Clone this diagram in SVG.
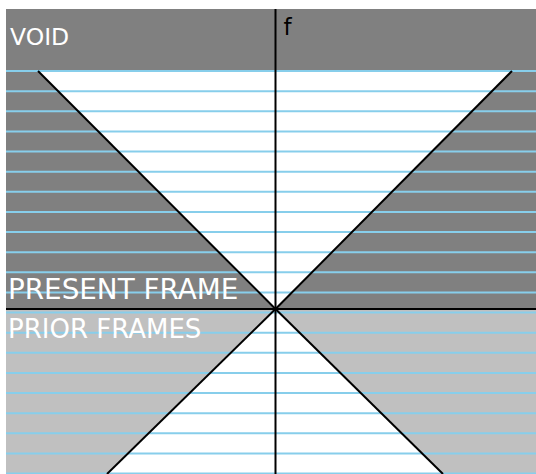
<svg xmlns="http://www.w3.org/2000/svg" width="536" height="474" viewBox="0 0 536 474">
<style>
.grid line{stroke:#87ceeb;stroke-width:2}
.ax{stroke:#000;stroke-width:2;fill:none}
.lbl{font-family:"DejaVu Sans",sans-serif;fill:#fff}
</style>
<rect width="536" height="474" fill="#fff"/>
<g id="void-region">
<rect x="6" y="9" width="530" height="300" fill="#808080"/>
<polygon points="38,71 512,71 275,309" fill="#fff"/>
</g>
<g id="prior-region">
<rect x="6" y="309" width="530" height="165" fill="#c0c0c0"/>
<polygon points="275,309 443,474 107,474" fill="#fff"/>
</g>
<g id="grid" class="grid">
<line x1="6" y1="71" x2="536" y2="71"/>
<line x1="6" y1="91.13" x2="536" y2="91.13"/>
<line x1="6" y1="111.26" x2="536" y2="111.26"/>
<line x1="6" y1="131.39" x2="536" y2="131.39"/>
<line x1="6" y1="151.52" x2="536" y2="151.52"/>
<line x1="6" y1="171.65" x2="536" y2="171.65"/>
<line x1="6" y1="191.78" x2="536" y2="191.78"/>
<line x1="6" y1="211.91" x2="536" y2="211.91"/>
<line x1="6" y1="232.04" x2="536" y2="232.04"/>
<line x1="6" y1="252.17" x2="536" y2="252.17"/>
<line x1="6" y1="272.3" x2="536" y2="272.3"/>
<line x1="6" y1="292.43" x2="536" y2="292.43"/>
<line x1="6" y1="312.56" x2="536" y2="312.56"/>
<line x1="6" y1="332.69" x2="536" y2="332.69"/>
<line x1="6" y1="352.82" x2="536" y2="352.82"/>
<line x1="6" y1="372.95" x2="536" y2="372.95"/>
<line x1="6" y1="393.08" x2="536" y2="393.08"/>
<line x1="6" y1="413.21" x2="536" y2="413.21"/>
<line x1="6" y1="433.34" x2="536" y2="433.34"/>
<line x1="6" y1="453.47" x2="536" y2="453.47"/>
<line x1="6" y1="473.6" x2="536" y2="473.6"/>
</g>
<g id="connectors">
<line class="ax" x1="275.5" y1="9" x2="275.5" y2="474"/>
<line class="ax" x1="6" y1="309" x2="536" y2="309"/>
<line class="ax" x1="38" y1="71" x2="275.5" y2="309"/>
<line class="ax" x1="512" y1="71" x2="275.5" y2="309"/>
<line class="ax" x1="275.5" y1="309" x2="107" y2="474"/>
<line class="ax" x1="275.5" y1="309" x2="443" y2="474"/>
</g>
<g id="label-void"><text class="lbl" x="10" y="45" font-size="23.5">VOID</text></g>
<g id="label-f"><text x="283.5" y="35" font-size="23" font-family="DejaVu Sans,sans-serif" fill="#000">f</text></g>
<g id="label-present"><text class="lbl" x="8" y="299" font-size="27.8">PRESENT FRAME</text></g>
<g id="label-prior"><text class="lbl" x="8" y="338" font-size="26">PRIOR FRAMES</text></g>
</svg>
